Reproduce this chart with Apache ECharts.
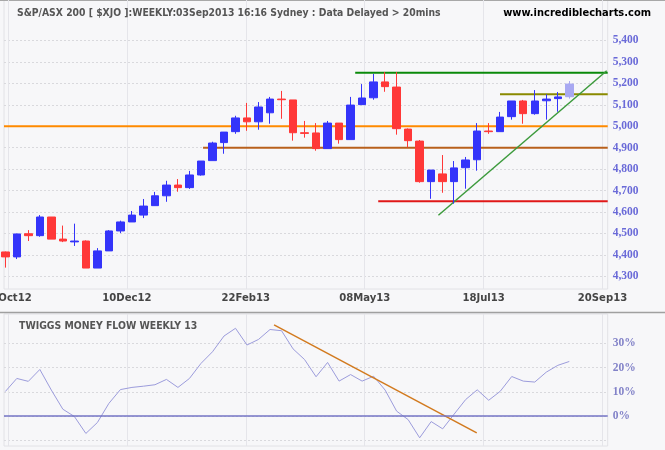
<!DOCTYPE html>
<html><head><meta charset="utf-8">
<script src="https://cdn.jsdelivr.net/npm/echarts@6/dist/echarts.min.js"></script>
<style>html,body{margin:0;padding:0;background:#f7f7f9}#c{width:665px;height:450px}</style>
</head><body><div id="c"></div>
<script>
// ---------- data ----------
const openP  = [4414,4391,4499,4490,4577,4474,4461,4465,4339,4419,4512,4554,4586,4630,4676,4726,4714,4773,4840,4924,4975,5039,5021,5063,5127,5123,4970,4969,4896,5015,4938,5101,5133,5207,5183,4987,4931,4742,4778,4742,4807,4844,4978,4975,5045,5118,5059,5119,5129,5138];
const closeP = [4391,4498,4490,4577,4474,4465,4465,4339,4419,4512,4554,4586,4628,4676,4726,4714,4773,4838,4922,4973,5039,5021,5090,5127,5124,4970,4967,4896,5015,4938,5099,5132,5207,5185,4989,4933,4742,4796,4742,4806,4843,4978,4975,5043,5118,5059,5118,5127,5137,5197];
const lowP   = [4341,4381,4465,4485,4474,4460,4442,4339,4339,4419,4502,4554,4572,4630,4648,4695,4708,4770,4840,4872,4965,4979,4984,5012,5035,4933,4947,4886,4896,4919,4938,5101,5124,5161,4961,4902,4737,4662,4690,4639,4709,4793,4965,4975,5031,5012,5054,5031,5068,5129];
const highP  = [4416,4499,4516,4586,4577,4537,4546,4468,4432,4516,4560,4605,4661,4694,4746,4754,4792,4838,4928,4973,5049,5109,5113,5137,5165,5123,5025,5015,5025,5015,5137,5197,5244,5253,5253,4990,4936,4796,4866,4838,4857,5015,5015,5067,5118,5123,5169,5149,5160,5211];
const tmf    = [10.1,15.5,14.3,19.2,10.7,2.8,-0.2,-7.2,-2.7,5.2,10.9,11.8,12.3,12.9,15.1,11.8,15.5,21.7,26.5,33.0,36.2,29.3,31.6,35.7,35.2,27.7,23.3,16.2,22.1,14.4,17.1,14.4,16.4,10.7,2.0,-1.5,-9.0,-2.3,-5.3,0.8,6.8,10.8,6.5,10.2,16.3,14.4,14.0,18.1,20.9,22.5];
const dateLabels = ['01Oct12','10Dec12','22Feb13','08May13','18Jul13','20Sep13'];
const priceTicks = [4300,4400,4500,4600,4700,4800,4900,5000,5100,5200,5300,5400];
const pctTicks = [0,10,20,30];
const pctGrid = [-10,0,10,20,30];
// horizontal levels: price value and starting bar position
const levelValues = [5000,4900,5250,4650,5150];
const levelStart  = [null,17.18,30.4,32.4,42.98];
// rising trend line (bar position, price)
const trendX = [37.63,52.25];
const trendY = [4585,5259];
// TMF falling trend line (bar position, %)
const tmfTrendX = [23.35,40.96];
const tmfTrendY = [37.6,-7.0];

// ---------- layout ----------
const plotL = 4, plotR = 607.7;
const bar0Px = 5.3, barPx = 11.51;
const lbl0Px = 8, lblStep = 118.9;
const pTop = 0, pBot = 289, y5000 = 126.3, px100 = 21.445;
const tTop = 314, tBot = 446, y0pct = 416, px10 = 24.23;

const idxMin = (plotL - bar0Px) / barPx, idxMax = (plotR - bar0Px) / barPx;
const lblMin = (plotL - lbl0Px) / lblStep, lblMax = (plotR - lbl0Px) / lblStep;
const pMax = 5000 + (y5000 - pTop) / px100 * 100, pMin = 5000 - (pBot - y5000) / px100 * 100;
const tMax = (y0pct - tTop) / px10 * 10, tMin = -(tBot - y0pct) / px10 * 10;

const NARROW = '"Liberation Sans Narrow","Arial Narrow","DejaVu Sans Condensed",sans-serif';
const SERIF = '"Liberation Serif","Times New Roman",serif';
const levelColors = ['#ff8a00','#b8601c','#0a8a0a','#e01818','#8a8a00'];

const candleData = openP.map((o, i) => {
  const item = { value: [i, o, closeP[i], lowP[i], highP[i]] };
  if (i === openP.length - 1) item.itemStyle = { color: '#a8a8f2', borderColor: '#a8a8f2', color0: '#a8a8f2', borderColor0: '#a8a8f2' };
  return item;
});

const series = [];
levelValues.forEach((v, k) => {
  const s = levelStart[k] == null ? idxMin : levelStart[k];
  series.push({ type: 'line', xAxisIndex: 0, yAxisIndex: 0, silent: true, symbol: 'none', z: 1,
    data: [[s, v], [idxMax, v]], lineStyle: { color: levelColors[k], width: 2 } });
});
series.push({ type: 'line', xAxisIndex: 0, yAxisIndex: 0, silent: true, symbol: 'none', z: 1,
  data: trendX.map((x, k) => [x, trendY[k]]), lineStyle: { color: '#3c9a3c', width: 1.5 } });
series.push({ type: 'candlestick', xAxisIndex: 0, yAxisIndex: 0, z: 3, barWidth: 8,
  encode: { x: 0, y: [1, 2, 3, 4] },
  itemStyle: { color: '#3434fa', color0: '#ff3838', borderColor: '#3434fa', borderColor0: '#ff3838', borderWidth: 1 },
  data: candleData });
series.push({ type: 'line', xAxisIndex: 2, yAxisIndex: 1, silent: true, symbol: 'none', z: 3,
  data: tmf.map((v, i) => [i, v]), lineStyle: { color: '#9c9cdc', width: 1 },
  markLine: { silent: true, symbol: 'none', label: { show: false },
    lineStyle: { color: '#7474c4', width: 1.5, type: 'solid' }, data: [{ yAxis: 0 }] } });
series.push({ type: 'line', xAxisIndex: 2, yAxisIndex: 1, silent: true, symbol: 'none', z: 4,
  data: tmfTrendX.map((x, k) => [x, tmfTrendY[k]]), lineStyle: { color: '#d27a1e', width: 1.5 } });

const hiddenIdx = g => ({ type: 'value', gridIndex: g, min: idxMin, max: idxMax, show: false });
const lblAxis = (g, showLabel) => ({
  type: 'value', gridIndex: g, position: 'bottom', min: lblMin, max: lblMax,
  axisLine: { show: false },
  axisTick: { show: false, customValues: [0,1,2,3,4,5] },
  axisLabel: { show: showLabel, customValues: [0,1,2,3,4,5], formatter: v => dateLabels[Math.round(v)],
    margin: 4, color: '#454545', fontFamily: NARROW, fontWeight: 'bold', fontSize: 11.2 },
  splitLine: { show: true, lineStyle: { color: '#e5e5ea', width: 1 } }
});

const option = {
  animation: false,
  backgroundColor: '#f7f7f9',
  title: [
    { text: 'S&P/ASX 200 [ $XJO ]:WEEKLY:03Sep2013 16:16 Sydney : Data Delayed > 20mins', left: 12, top: 3,
      textStyle: { color: '#555', fontFamily: NARROW, fontWeight: 'bold', fontSize: 10.3 } },
    { text: 'www.incrediblecharts.com', right: 9, top: 3,
      textStyle: { color: '#000', fontFamily: NARROW, fontWeight: 'bold', fontSize: 11 } },
    { text: 'TWIGGS MONEY FLOW WEEKLY 13', left: 14, top: 316,
      textStyle: { color: '#555', fontFamily: NARROW, fontWeight: 'bold', fontSize: 10.4 } }
  ],
  grid: [
    { left: plotL, top: pTop, width: plotR - plotL, height: pBot - pTop, outerBoundsMode: 'none', containLabel: false,
      show: true, borderColor: '#e2e2e6', borderWidth: 1, backgroundColor: 'transparent' },
    { left: plotL, top: tTop, width: plotR - plotL, height: tBot - tTop, outerBoundsMode: 'none', containLabel: false,
      show: true, borderColor: '#e2e2e6', borderWidth: 1, backgroundColor: 'transparent' }
  ],
  xAxis: [hiddenIdx(0), lblAxis(0, true), hiddenIdx(1), lblAxis(1, false)],
  yAxis: [
    { type: 'value', gridIndex: 0, position: 'right', min: pMin, max: pMax,
      axisLine: { show: false }, axisTick: { show: false, customValues: priceTicks },
      axisLabel: { customValues: priceTicks, formatter: v => v.toLocaleString('en-US'), align: 'left', margin: 5,
        color: '#6a6ad8', fontFamily: SERIF, fontWeight: 'bold', fontSize: 11.5 },
      splitLine: { show: true, lineStyle: { color: '#d9d9dd', width: 1, type: [2, 2] } } },
    { type: 'value', gridIndex: 1, position: 'right', min: tMin, max: tMax,
      axisLine: { show: false }, axisTick: { show: false, customValues: pctGrid },
      axisLabel: { customValues: pctTicks, formatter: v => v + '%', align: 'left', margin: 5,
        color: '#8282c8', fontFamily: SERIF, fontWeight: 'bold', fontSize: 11.5 },
      splitLine: { show: true, lineStyle: { color: '#d9d9dd', width: 1, type: [2, 2] } } }
  ],
  graphic: [
    { type: 'line', shape: { x1: 0, y1: 0.5, x2: 665, y2: 0.5 }, style: { stroke: '#a8a8a8', lineWidth: 1 }, silent: true },
    { type: 'line', shape: { x1: 0, y1: 312.5, x2: 665, y2: 312.5 }, style: { stroke: '#a0a0a0', lineWidth: 1.5 }, silent: true }
  ],
  series: series
};
const chart = echarts.init(document.getElementById('c'), null, { width: 665, height: 450 });
chart.setOption(option);
</script></body></html>
